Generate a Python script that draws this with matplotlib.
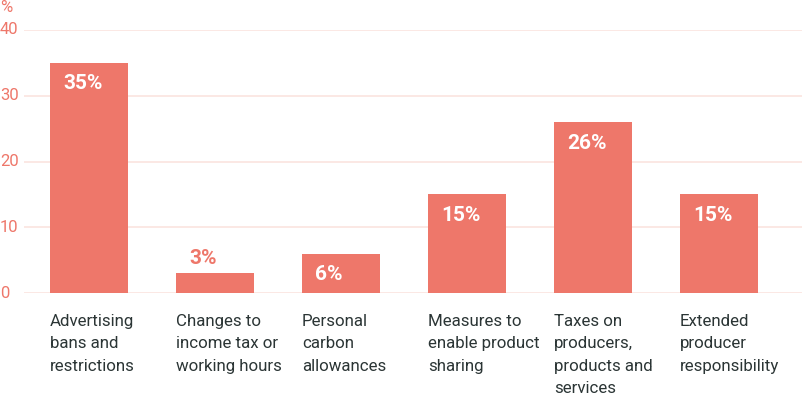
import matplotlib
matplotlib.use("Agg")
import matplotlib.pyplot as plt

categories = [
    "Advertising\nbans and\nrestrictions",
    "Changes to\nincome tax or\nworking hours",
    "Personal\ncarbon\nallowances",
    "Measures to\nenable product\nsharing",
    "Taxes on\nproducers,\nproducts and\nservices",
    "Extended\nproducer\nresponsibility",
]
values = [35, 3, 6, 15, 26, 15]
yticks = [0, 10, 20, 30, 40]

BAR = "#EE776A"
GRID = "#FBE4DF"
TEXT = "#2B3535"

plt.rcParams["font.family"] = ["Roboto", "DejaVu Sans"]

fig = plt.figure(figsize=(8.03, 3.97), dpi=100)
ax = fig.add_axes([24 / 803, (397 - 293) / 397, (803 - 24) / 803, 263 / 397])

width = 78 / 126
xs = list(range(len(values)))
ax.bar(xs, values, width=width, color=BAR, zorder=2)

ax.set_xlim(-65 / 126, (803 - 89) / 126)
ax.set_ylim(0, 40)
ax.set_yticks(yticks)
ax.set_yticklabels([])
ax.set_xticks([])
for t in yticks:
    ax.axhline(t, color=GRID, lw=1.2, zorder=1)
    fig.text(0, (397 - 293 + t * 6.575) / 397, str(t), color=BAR,
             fontsize=12, ha="left", va="center")
fig.text(0, (397 - 8) / 397, "%", color=BAR, fontsize=12, ha="left", va="center")

for s in ax.spines.values():
    s.set_visible(False)
ax.tick_params(length=0)

for x, v, c in zip(xs, values, categories):
    left = x - width / 2
    if v >= 5:
        ax.text(left + 0.105, v - 3.2, f"{v}%", color="white", fontsize=15,
                fontweight="bold", ha="left", va="center")
    else:
        ax.text(left + 0.105, v + 2.3, f"{v}%", color=BAR, fontsize=15,
                fontweight="bold", ha="left", va="center")
    ax.text(left, -3.2, c, color=TEXT, fontsize=12.2, ha="left", va="top",
            linespacing=1.62)

fig.savefig("out.png", dpi=100)
